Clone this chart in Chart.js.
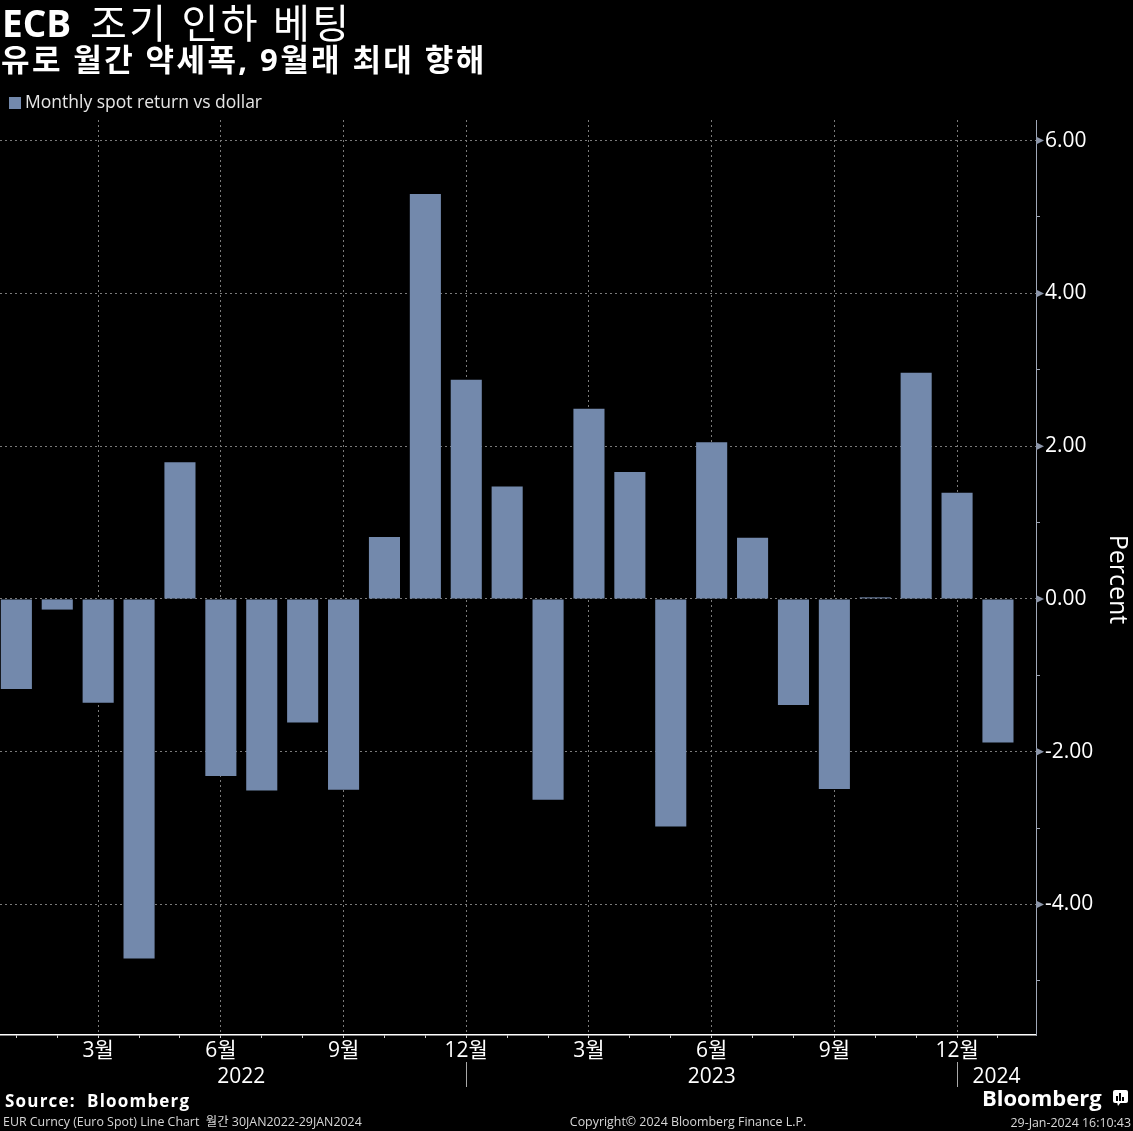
<!DOCTYPE html>
<html>
<head>
<meta charset="utf-8">
<script src="https://cdn.jsdelivr.net/npm/chart.js@4.4.1/dist/chart.umd.min.js"></script>
<style>
  html, body { margin: 0; padding: 0; background: #000; }
  canvas { display: block; }
</style>
</head>
<body>
<canvas id="c" width="1133" height="1131"></canvas>
<script>
// ---- data ----
const categories = [
  '2022-01','2022-02','2022-03','2022-04','2022-05','2022-06','2022-07','2022-08','2022-09','2022-10','2022-11','2022-12',
  '2023-01','2023-02','2023-03','2023-04','2023-05','2023-06','2023-07','2023-08','2023-09','2023-10','2023-11','2023-12',
  '2024-01'
];
const values = [
  -1.18, -0.14, -1.36, -4.71, 1.79, -2.32, -2.51, -1.62, -2.50, 0.81, 5.30, 2.87,
  1.47, -2.63, 2.49, 1.66, -2.98, 2.05, 0.80, -1.39, -2.49, 0.02, 2.96, 1.39,
  -1.88
];
const tickLabels = [
  '', '', '3월', '', '', '6월', '', '', '9월', '', '', '12월',
  '', '', '3월', '', '', '6월', '', '', '9월', '', '', '12월',
  ''
];
const yearLabels = ['2022', '2023', '2024'];
const yTickValues = [-5, -4, -3, -2, -1, 0, 1, 2, 3, 4, 5, 6];
const yLabelValues = [-4, -2, 0, 2, 4, 6];
const seriesName = 'Monthly spot return vs dollar';

const FONT = "'Open Sans', 'Noto Sans CJK KR', sans-serif";
const BAR = '#7389ac';
const GRID = '#7a7a7a';

const extras = {
  id: 'extras',
  beforeDraw(chart) {
    const c = chart.ctx;
    c.save();
    c.fillStyle = '#000';
    c.fillRect(0, 0, chart.width, chart.height);
    c.restore();
  },
  afterDraw(chart) {
    const c = chart.ctx;
    const xs = chart.scales.x, ys = chart.scales.y;
    const area = chart.chartArea;
    c.save();
    c.fillStyle = '#fff';
    c.textAlign = 'left';
    c.textBaseline = 'alphabetic';
    // title
    c.font = "bold 37px " + FONT;
    c.fillText('ECB', 2, 37);
    const w = c.measureText('ECB').width;
    c.font = "40px " + FONT;
    c.letterSpacing = '2.5px';
    c.fillText(' 조기 인하 베팅', 8 + w, 38);
    // subtitle
    c.font = "bold 31px " + FONT;
    c.letterSpacing = '2.4px';
    c.fillText('유로 월간 약세폭, 9월래 최대 향해', 1, 71);
    c.letterSpacing = '0px';
    // legend
    c.fillStyle = BAR;
    c.fillRect(9, 97, 12, 12);
    c.fillStyle = '#e6e6e6';
    c.font = "17.5px " + FONT;
    c.fillText(seriesName, 25, 108);

    // y-axis triangle markers
    c.fillStyle = '#8c96aa';
    yLabelValues.forEach(v => {
      const y = ys.getPixelForValue(v);
      c.beginPath();
      c.moveTo(area.right, y - 4);
      c.lineTo(area.right + 8, y);
      c.lineTo(area.right, y + 4);
      c.closePath();
      c.fill();
    });

    // Percent
    c.save();
    c.fillStyle = '#fff';
    c.font = "25px " + FONT;
    c.translate(1110, (area.top + area.bottom) / 2 + 2);
    c.rotate(Math.PI / 2);
    c.textAlign = 'center';
    c.fillText('Percent', 0, 0);
    c.restore();

    // year labels and separators
    const p0 = xs.getPixelForValue(0), p11 = xs.getPixelForValue(11), p23 = xs.getPixelForValue(23);
    const yearX = [(p0 + p11) / 2, (p11 + p23) / 2, (p23 + area.right) / 2];
    c.fillStyle = '#fff';
    c.font = "21px " + FONT;
    c.textAlign = 'center';
    yearLabels.forEach((t, i) => c.fillText(t, yearX[i], 1083));
    c.strokeStyle = '#a8a8a8';
    c.lineWidth = 1;
    [p11, p23].forEach(x => {
      c.beginPath();
      c.moveTo(Math.round(x) + 0.5, 1062);
      c.lineTo(Math.round(x) + 0.5, 1087);
      c.stroke();
    });

    // footer
    c.textAlign = 'left';
    c.fillStyle = '#fff';
    c.font = "bold 17px " + FONT;
    c.letterSpacing = '1.2px';
    c.fillText('Source:  Bloomberg', 5, 1107);
    c.letterSpacing = '0px';
    c.fillStyle = '#d8d8d8';
    c.font = "12.4px " + FONT;
    c.fillText('EUR Curncy (Euro Spot) Line Chart  월간 30JAN2022-29JAN2024', 3, 1126);
    c.textAlign = 'center';
    c.fillText('Copyright© 2024 Bloomberg Finance L.P.', 688, 1126);
    c.textAlign = 'right';
    c.fillText('29-Jan-2024 16:10:43', 1131, 1127);
    // Bloomberg logo
    c.fillStyle = '#fff';
    c.font = "bold 22px " + FONT;
    c.textAlign = 'left';
    c.fillText('Bloomberg', 982, 1106);
    // icon
    c.beginPath();
    c.roundRect(1113, 1090, 15, 13, 2);
    c.fill();
    c.beginPath();
    c.moveTo(1117, 1102); c.lineTo(1121, 1102); c.lineTo(1118, 1106); c.closePath();
    c.fill();
    c.fillStyle = '#000';
    c.fillRect(1116, 1096, 2, 5);
    c.fillRect(1119, 1093, 2, 8);
    c.fillRect(1122, 1097, 2, 4);
    c.restore();
  }
};

new Chart(document.getElementById('c'), {
  type: 'bar',
  data: {
    datasets: [{
      label: seriesName,
      data: values.map((v, i) => ({ x: i, y: v })),
      backgroundColor: BAR,
      borderWidth: 0,
      barPercentage: 0.76,
      categoryPercentage: 1
    }]
  },
  options: {
    responsive: false,
    animation: false,
    devicePixelRatio: 1,
    layout: { padding: { top: 120, left: 0, right: 0, bottom: 0 } },
    plugins: { legend: { display: false }, tooltip: { enabled: false } },
    scales: {
      x: {
        type: 'linear',
        min: -0.4,
        max: 24.93,
        offset: false,
        afterBuildTicks: s => { s.ticks = categories.map((c, i) => ({ value: i })); },
        afterFit: s => { s.height = 96; },
        grid: {
          offset: false,
          color: ctx => (ctx.tick && tickLabels[ctx.tick.value]) ? GRID : 'rgba(0,0,0,0)',
          tickColor: '#d0d0d0',
          tickLength: 3,
          lineWidth: 1
        },
        border: { color: '#ffffff', width: 1.5, dash: [2, 3] },
        ticks: {
          autoSkip: false,
          maxRotation: 0,
          color: '#fff',
          padding: 0,
          font: { family: FONT, size: 21 },
          callback: (v, i) => tickLabels[i]
        }
      },
      y: {
        position: 'right',
        min: -5.71,
        max: 6.27,
        afterBuildTicks: s => { s.ticks = yTickValues.map(v => ({ value: v })); },
        afterFit: s => { s.width = 97; },
        grid: {
          color: ctx => (ctx.tick && yLabelValues.includes(ctx.tick.value)) ? GRID : 'rgba(0,0,0,0)',
          tickColor: ctx => (ctx.tick && yLabelValues.includes(ctx.tick.value)) ? 'rgba(0,0,0,0)' : '#a0a8b8',
          tickLength: 4,
          lineWidth: 1
        },
        border: { color: '#a0a8b8', width: 1, dash: [2, 3] },
        ticks: {
          autoSkip: false,
          color: '#fff',
          padding: 5,
          font: { family: FONT, size: 21 },
          callback: v => yLabelValues.includes(v) ? v.toFixed(2) : ''
        }
      }
    }
  },
  plugins: [extras]
});
</script>
</body>
</html>
